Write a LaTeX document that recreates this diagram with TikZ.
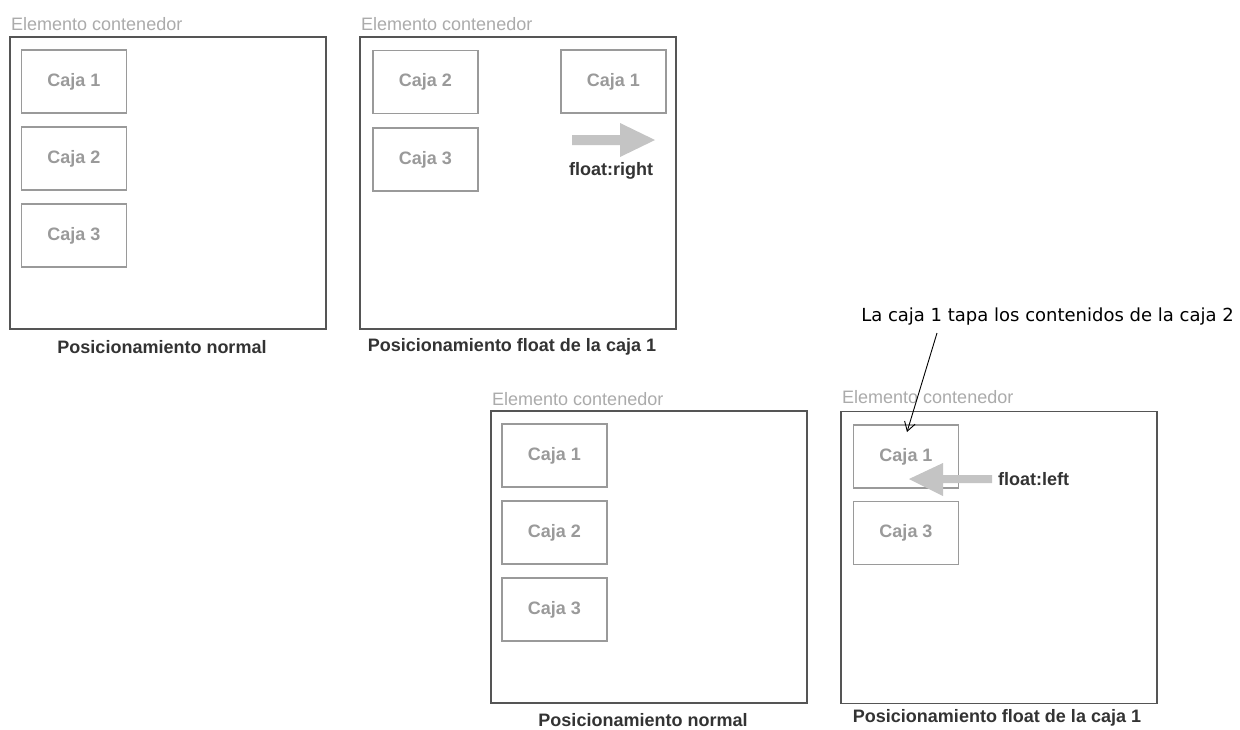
\documentclass[tikz,border=0pt]{standalone}
\usepackage{fontspec}
\setmainfont{Liberation Sans}
\newfontfamily\notefont{DejaVu Sans}
\usetikzlibrary{arrows.meta}
\definecolor{boxgray}{HTML}{9A9A9A}
\definecolor{labelgray}{HTML}{ABABAB}
\definecolor{framegray}{HTML}{555555}
\definecolor{captiongray}{HTML}{333333}
\definecolor{arrowgray}{HTML}{C4C4C4}
\tikzset{
  container/.style={draw=framegray, line width=1.9pt, minimum width=316pt, minimum height=292pt, inner sep=0pt},
  cajabox/.style={draw=boxgray, line width=1.9pt, fill=white, minimum width=105pt, minimum height=63pt, inner sep=0pt,
    text=boxgray, font=\fontsize{18}{20}\selectfont\bfseries},
  contlabel/.style={anchor=west, inner sep=0pt, text=labelgray, font=\fontsize{18}{20}\selectfont},
  caption/.style={inner sep=0pt, text=captiongray, font=\fontsize{18}{20}\selectfont\bfseries},
  floatlabel/.style={inner sep=0pt, text=captiongray, font=\fontsize{18}{20}\selectfont\bfseries},
  notelabel/.style={inner sep=0pt, text=black, font=\notefont\fontsize{18}{20}\selectfont},
  bigarrow/.style={fill=arrowgray, draw=none},
  pointer/.style={draw=black, line width=0.9pt, -{Straight Barb[length=9pt, width=11pt, line width=0.9pt]}}
}
\begin{document}
\begin{tikzpicture}[x=1pt, y=-1pt]
\useasboundingbox (0,0) rectangle (1240,729);
\fill[white] (0,0) rectangle (1240,729);

% Panel 1
\node[contlabel] (l1) at (11,24) {Elemento contenedor};
\node[container] (c1) at (168,183) {};
\node[cajabox] (p1a) at (74,81.5) {Caja 1};
\node[cajabox] (p1b) at (74,158.5) {Caja 2};
\node[cajabox] (p1c) at (74,235.5) {Caja 3};
\node[caption] (cap1) at (162,347) {Posicionamiento normal};

% Panel 2
\node[contlabel] (l2) at (361,24) {Elemento contenedor};
\node[container] (c2) at (518,183) {};
\node[cajabox] (p2b) at (425.5,82) {Caja 2};
\node[cajabox] (p2c) at (425.5,159.5) {Caja 3};
\node[cajabox] (p2a) at (613.5,81.5) {Caja 1};
\fill[bigarrow] (572,135) -- (620,135) -- (620,123) -- (655,140) -- (620,157) -- (620,145) -- (572,145) -- cycle;
\node[floatlabel] (fr) at (611,171) {float:right};
\node[caption] (cap2) at (512,347) {Posicionamiento float de la caja 1};

% Panel 3
\node[contlabel] (l3) at (492,399) {Elemento contenedor};
\node[container] (c3) at (649,557) {};
\node[cajabox] (p3a) at (554.5,455.5) {Caja 1};
\node[cajabox] (p3b) at (554.5,532.5) {Caja 2};
\node[cajabox] (p3c) at (554.5,609.5) {Caja 3};
\node[caption] (cap3) at (643,720) {Posicionamiento normal};

% Panel 4
\node[contlabel] (l4) at (842,397) {Elemento contenedor};
\node[container] (c4) at (999,557.5) {};
\node[cajabox] (p4a) at (906,456.5) {Caja 1};
\node[cajabox] (p4c) at (906,533) {Caja 3};
\fill[bigarrow] (992,475) -- (943,475) -- (943,463) -- (909,479) -- (943,496) -- (943,483) -- (992,483) -- cycle;
\node[floatlabel, anchor=west] (fl) at (998,479) {float:left};
\node[caption] (cap4) at (997,718) {Posicionamiento float de la caja 1};

% Note
\node[notelabel] (note) at (1047.5,317) {La caja 1 tapa los contenidos de la caja 2};
\coordinate (notefoot) at (937,333);
\coordinate (caja1top) at (907,432);
\draw[pointer] (notefoot) -- (caja1top);
\end{tikzpicture}
\end{document}
